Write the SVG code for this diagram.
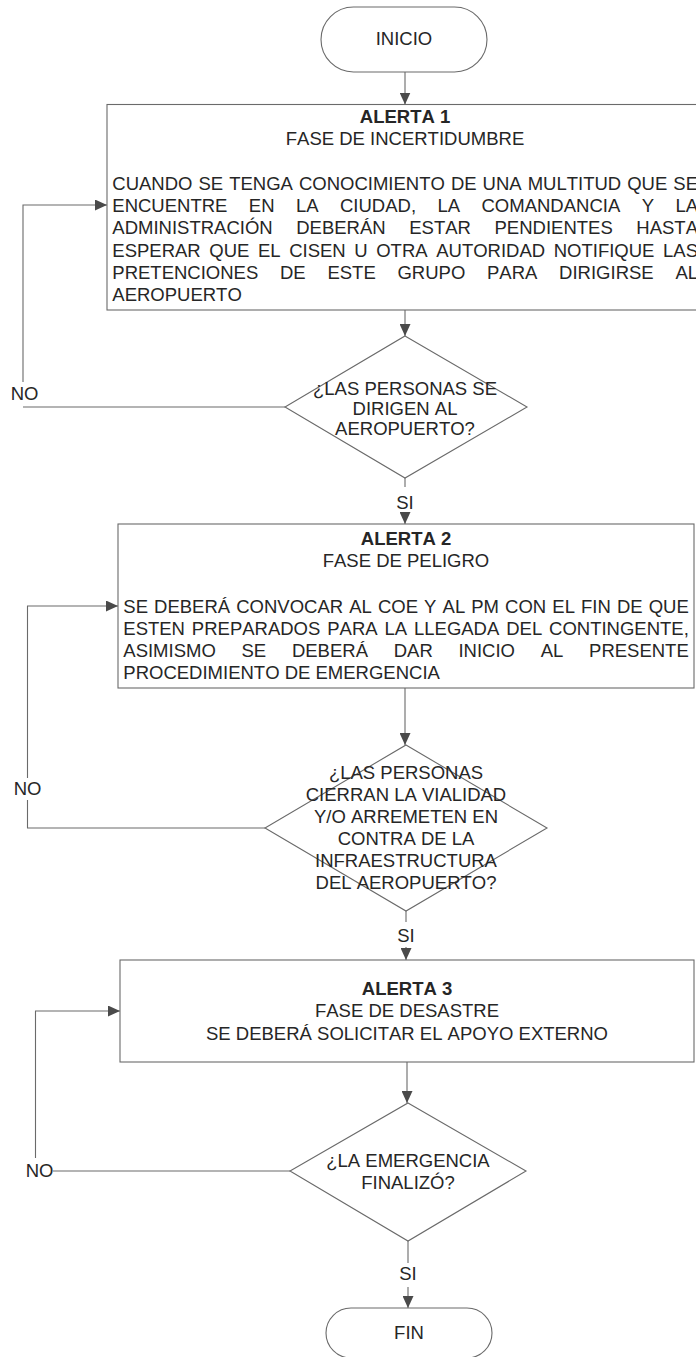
<svg xmlns="http://www.w3.org/2000/svg" width="696" height="1357" viewBox="0 0 696 1357">
<style>
  text { font-family: "Liberation Sans", Arial, sans-serif; font-size: 18.5px; fill: #262626; font-kerning: none; }
  .c { text-anchor: middle; }
  .b { font-weight: bold; }
  .shape { fill: #ffffff; stroke: #6a6a6a; stroke-width: 1.1; }
  .ln { fill: none; stroke: #6a6a6a; stroke-width: 1.1; }
</style>
<defs>
  <marker id="ah" markerUnits="userSpaceOnUse" markerWidth="12" markerHeight="11" refX="12" refY="5.5" orient="auto">
    <path d="M0,0 L12,5.5 L0,11 z" fill="#4a4a4a"/>
  </marker>
</defs>
<rect x="0" y="0" width="696" height="1357" fill="#ffffff"/>

<g id="connectors">
  <line class="ln" x1="405" y1="72" x2="405" y2="104.5" marker-end="url(#ah)"/>
  <line class="ln" x1="405" y1="310" x2="405" y2="336" marker-end="url(#ah)"/>
  <line class="ln" x1="405" y1="478" x2="405" y2="487"/>
  <line class="ln" x1="405" y1="512" x2="405" y2="524" marker-end="url(#ah)"/>
  <line class="ln" x1="405" y1="688" x2="405" y2="745" marker-end="url(#ah)"/>
  <line class="ln" x1="406" y1="911" x2="406" y2="922"/>
  <line class="ln" x1="406" y1="947" x2="406" y2="960" marker-end="url(#ah)"/>
  <line class="ln" x1="407" y1="1062" x2="407" y2="1103" marker-end="url(#ah)"/>
  <line class="ln" x1="408" y1="1241" x2="408" y2="1263"/>
  <line class="ln" x1="408" y1="1287" x2="408" y2="1308" marker-end="url(#ah)"/>
  <!-- NO loop 1 -->
  <line class="ln" x1="285" y1="407" x2="23" y2="407"/>
  <polyline class="ln" points="23,382 23,205 107,205" marker-end="url(#ah)"/>
  <!-- NO loop 2 -->
  <polyline class="ln" points="265,828 27.5,828 27.5,800"/>
  <polyline class="ln" points="27.5,778 27.5,606 118,606" marker-end="url(#ah)"/>
  <!-- NO loop 3 -->
  <line class="ln" x1="53" y1="1171" x2="290" y2="1171"/>
  <polyline class="ln" points="35.5,1158 35.5,1011 120,1011" marker-end="url(#ah)"/>
</g>

<g id="inicio">
  <rect class="shape" x="321" y="7" width="166" height="65" rx="32.5" ry="32.5"/>
  <text class="c" x="404" y="45">INICIO</text>
</g>

<g id="alerta1">
  <rect class="shape" x="107" y="104.5" width="597" height="205.5"/>
  <text class="c b" x="405" y="122.7">ALERTA 1</text>
  <text class="c" x="405" y="145">FASE DE INCERTIDUMBRE</text>
  <text x="112.3" y="190" style="word-spacing:0.88px">CUANDO SE TENGA CONOCIMIENTO DE UNA MULTITUD QUE SE</text>
  <text x="112.3" y="212.2" style="word-spacing:16.27px">ENCUENTRE EN LA CIUDAD, LA COMANDANCIA Y LA</text>
  <text x="112.3" y="234.4" style="word-spacing:18.45px">ADMINISTRACIÓN DEBERÁN ESTAR PENDIENTES HASTA</text>
  <text x="112.3" y="256.6" style="word-spacing:3.44px">ESPERAR QUE EL CISEN U OTRA AUTORIDAD NOTIFIQUE LAS</text>
  <text x="112.3" y="278.8" style="word-spacing:16.58px">PRETENCIONES DE ESTE GRUPO PARA DIRIGIRSE AL</text>
  <text x="112.3" y="301">AEROPUERTO</text>
</g>

<g id="decision1">
  <polygon class="shape" points="405,336 527,407 405,478 285,407"/>
  <text class="c" x="405" y="394.5">¿LAS PERSONAS SE</text>
  <text class="c" x="405" y="414.5">DIRIGEN AL</text>
  <text class="c" x="405" y="434.5">AEROPUERTO?</text>
</g>

<g id="alerta2">
  <rect class="shape" x="118" y="524" width="576" height="164"/>
  <text class="c b" x="406" y="545">ALERTA 2</text>
  <text class="c" x="406" y="567">FASE DE PELIGRO</text>
  <text x="123.3" y="612.5" style="word-spacing:0.95px">SE DEBERÁ CONVOCAR AL COE Y AL PM CON EL FIN DE QUE</text>
  <text x="123.3" y="634.7" style="word-spacing:1.73px">ESTEN PREPARADOS PARA LA LLEGADA DEL CONTINGENTE,</text>
  <text x="123.3" y="656.9" style="word-spacing:20.57px">ASIMISMO SE DEBERÁ DAR INICIO AL PRESENTE</text>
  <text x="123.3" y="679.1">PROCEDIMIENTO DE EMERGENCIA</text>
</g>

<g id="decision2">
  <polygon class="shape" points="406,745 547,828 406,911 265,828"/>
  <text class="c" x="406" y="778.5">¿LAS PERSONAS</text>
  <text class="c" x="406" y="800.5">CIERRAN LA VIALIDAD</text>
  <text class="c" x="406" y="822.5">Y/O ARREMETEN EN</text>
  <text class="c" x="406" y="844.5">CONTRA DE LA</text>
  <text class="c" x="406" y="866.5">INFRAESTRUCTURA</text>
  <text class="c" x="406" y="888.5">DEL AEROPUERTO?</text>
</g>

<g id="alerta3">
  <rect class="shape" x="120" y="960" width="574" height="102"/>
  <text class="c b" x="407" y="994.5">ALERTA 3</text>
  <text class="c" x="407" y="1017">FASE DE DESASTRE</text>
  <text class="c" x="407" y="1039.5">SE DEBERÁ SOLICITAR EL APOYO EXTERNO</text>
</g>

<g id="decision3">
  <polygon class="shape" points="408,1103 526,1171 408,1241 290,1171"/>
  <text class="c" x="408" y="1166.5">¿LA EMERGENCIA</text>
  <text class="c" x="408" y="1188.5">FINALIZÓ?</text>
</g>

<g id="fin">
  <rect class="shape" x="326" y="1308" width="166" height="50" rx="25" ry="25"/>
  <text class="c" x="409" y="1339">FIN</text>
</g>

<g id="labels">
  <text class="c" x="24.5" y="400">NO</text>
  <text class="c" x="405" y="508.5">SI</text>
  <text class="c" x="27.5" y="795">NO</text>
  <text class="c" x="406" y="941.5">SI</text>
  <text class="c" x="39.5" y="1177">NO</text>
  <text class="c" x="408" y="1280">SI</text>
</g>
</svg>
